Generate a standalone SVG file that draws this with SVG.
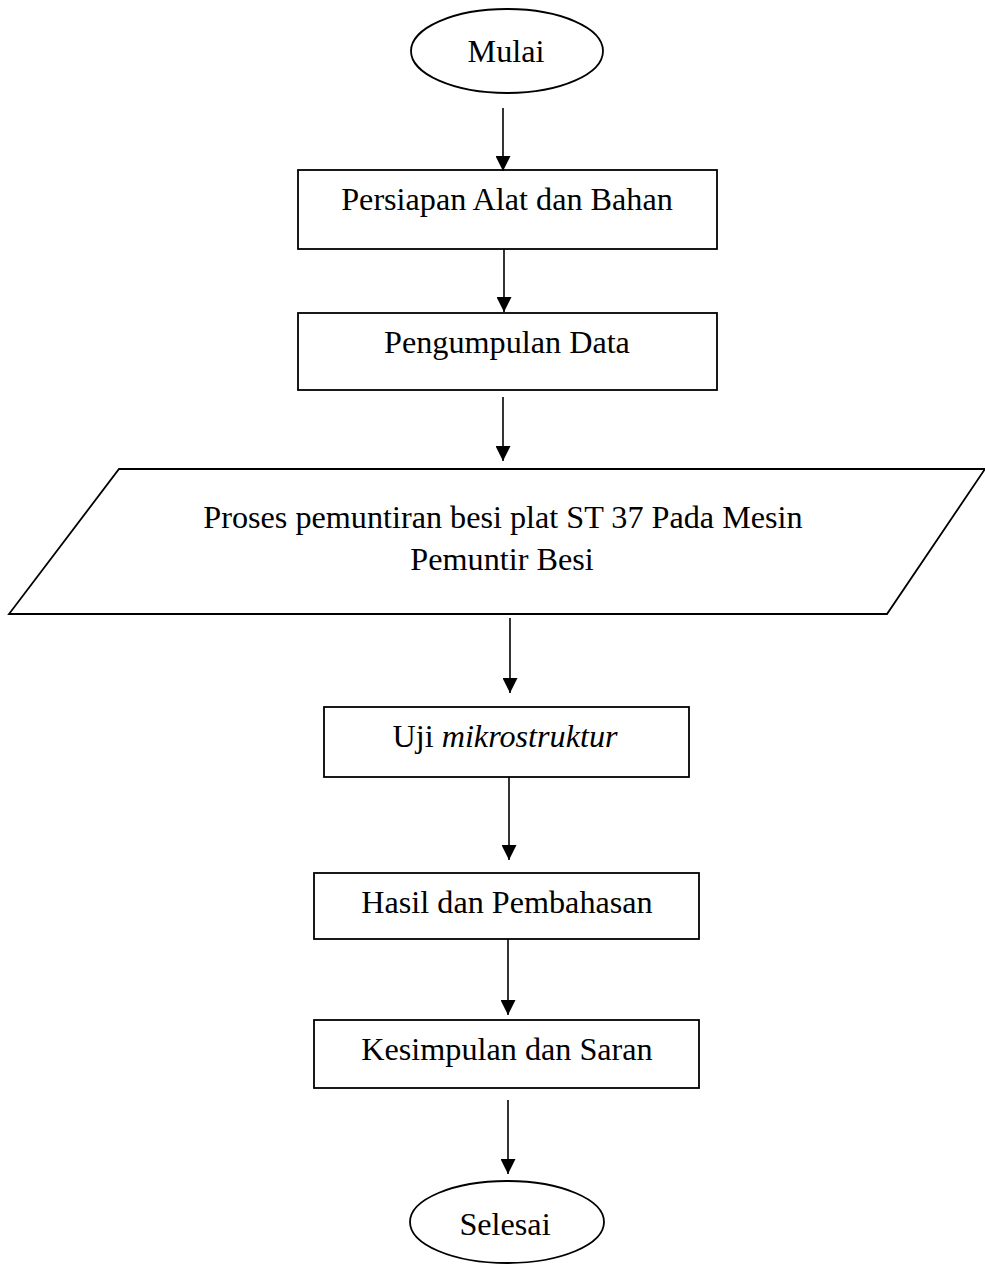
<svg xmlns="http://www.w3.org/2000/svg" width="985" height="1265" viewBox="0 0 985 1265">
<style>
.shape{fill:#fff;stroke:#000;stroke-width:1.8}
.lbl{font-family:"Liberation Serif","Times New Roman",serif;font-size:32.2px;fill:#000;text-anchor:middle}
.conn{stroke:#000;stroke-width:1.6;fill:none;marker-end:url(#ah)}
</style>
<defs>
<marker id="ah" markerUnits="userSpaceOnUse" markerWidth="15" markerHeight="15" viewBox="0 0 15 15" refX="15" refY="7.5" orient="auto">
<path d="M0,0 L15,7.5 L0,15 Z" fill="#000"/>
</marker>
</defs>
<rect width="985" height="1265" fill="#fff"/>
<g id="mulai">
<ellipse class="shape" cx="507" cy="51" rx="96" ry="42"/>
<text class="lbl" x="506" y="62">Mulai</text>
</g>
<g id="persiapan">
<rect class="shape" x="298" y="170" width="419" height="79"/>
<text class="lbl" x="507" y="210">Persiapan Alat dan Bahan</text>
</g>
<g id="pengumpulan">
<rect class="shape" x="298" y="313" width="419" height="77"/>
<text class="lbl" x="507" y="353">Pengumpulan Data</text>
</g>
<g id="proses">
<polygon class="shape" points="119,469 985,469 887,614 9,614"/>
<text class="lbl" x="503" y="528">Proses pemuntiran besi plat ST 37 Pada Mesin</text>
<text class="lbl" x="502" y="570">Pemuntir Besi</text>
</g>
<g id="uji">
<rect class="shape" x="324" y="707" width="365" height="70"/>
<text class="lbl" x="505" y="747">Uji <tspan font-style="italic">mikrostruktur</tspan></text>
</g>
<g id="hasil">
<rect class="shape" x="314" y="873" width="385" height="66"/>
<text class="lbl" x="507" y="913">Hasil dan Pembahasan</text>
</g>
<g id="kesimpulan">
<rect class="shape" x="314" y="1020" width="385" height="68"/>
<text class="lbl" x="507" y="1060">Kesimpulan dan Saran</text>
</g>
<g id="selesai">
<ellipse class="shape" cx="507" cy="1222" rx="97" ry="41"/>
<text class="lbl" x="505" y="1235">Selesai</text>
</g>
<g id="connectors">
<line class="conn" x1="503" y1="108" x2="503" y2="171"/>
<line class="conn" x1="504" y1="249" x2="504" y2="312"/>
<line class="conn" x1="503" y1="397" x2="503" y2="461"/>
<line class="conn" x1="510" y1="618" x2="510" y2="693"/>
<line class="conn" x1="509" y1="777" x2="509" y2="860"/>
<line class="conn" x1="508" y1="939" x2="508" y2="1015"/>
<line class="conn" x1="508" y1="1100" x2="508" y2="1174"/>
</g>
</svg>
